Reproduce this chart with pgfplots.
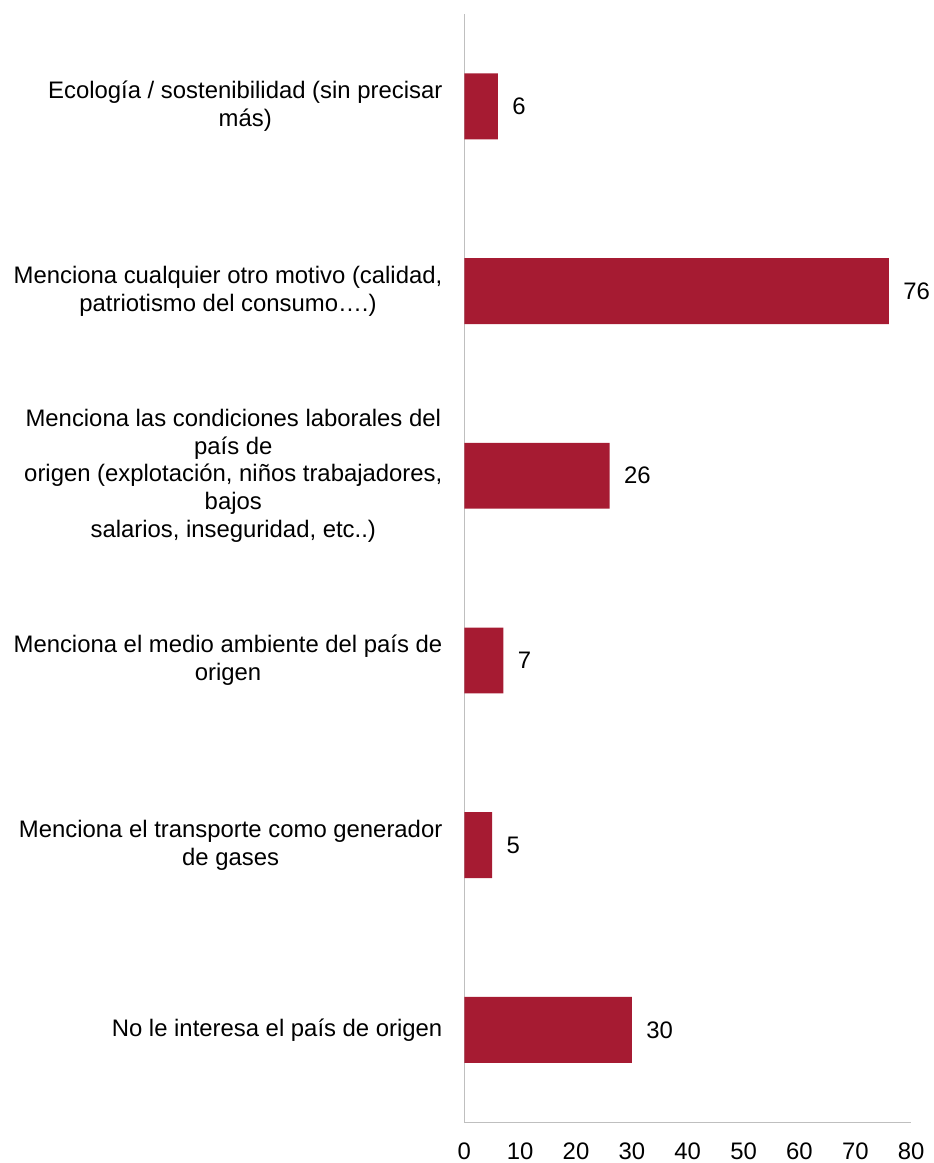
\documentclass[border=0pt]{standalone}
\usepackage{pgfplots}
\pgfplotsset{compat=1.18}
\usepackage{fontspec}
\setmainfont{Liberation Sans}
\usetikzlibrary{calc}
\definecolor{barred}{RGB}{166,27,50}
\definecolor{axgray}{RGB}{191,191,191}
\begin{document}
\begin{tikzpicture}
\begin{axis}[
  name=ax,
  scale only axis,
  width=447.5bp, height=1110bp,
  xbar, bar width=0.357,
  xmin=0, xmax=80,
  ymin=-0.5, ymax=5.5,
  ytick={0,1,2,3,4,5},
  yticklabels={
    {No le interesa el país de origen},
    {Menciona el transporte como generador\\de gases},
    {Menciona el medio ambiente del país de\\origen},
    {Menciona las condiciones laborales del\\país de\\origen (explotación, niños trabajadores,\\bajos\\salarios, inseguridad, etc..)},
    {Menciona cualquier otro motivo (calidad,\\patriotismo del consumo….)},
    {Ecología / sostenibilidad (sin precisar\\más)}
  },
  xtick={0,10,...,80},
  axis x line*=bottom, axis y line*=left,
  axis line style={axgray, line width=1.5bp, -},
  major tick length=0pt,
  tick style={draw=none},
  tick label style={font=\fontsize{24}{28}\selectfont},
  yticklabel style={align=center, xshift=-18.5bp},
  xticklabel style={yshift=-17bp},
  /pgf/number format/assume math mode=true,
  nodes near coords,
  nodes near coords style={anchor=west, xshift=11bp, font=\fontsize{24}{28}\selectfont, black},
  clip=false,
]
\addplot[fill=barred, draw=none] coordinates {(30,0) (5,1) (7,2) (26,3) (76,4) (6,5)};
\end{axis}
\path ($(ax.north west)+(-465bp,14bp)$) -- ($(ax.south east)+(19bp,-39bp)$);
\end{tikzpicture}
\end{document}
